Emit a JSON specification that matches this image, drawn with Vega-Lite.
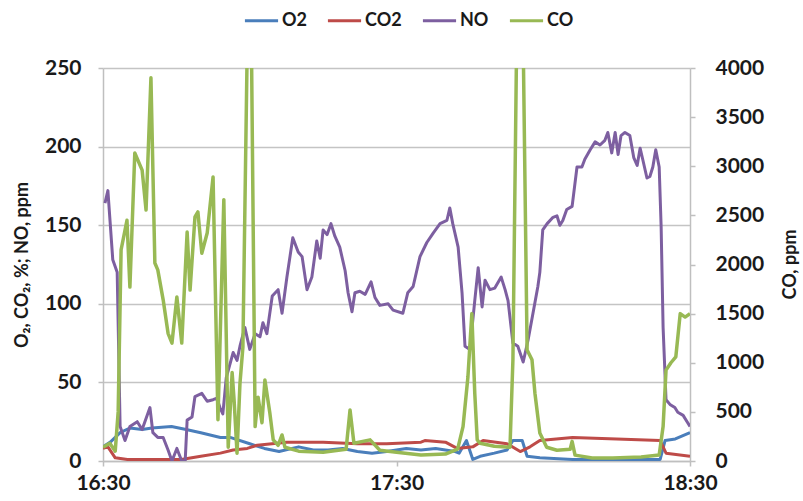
{
  "$schema": "https://vega.github.io/schema/vega-lite/v6.json",
  "width": 587,
  "height": 393,
  "autosize": {"type": "none"},
  "padding": {"left": 103, "top": 68, "right": 113, "bottom": 40},
  "background": "white",
  "config": {
    "view": {"stroke": null},
    "font": "Lato",
    "axis": {"labelFont": "Lato", "labelFontWeight": "bold", "labelFontSize": 21, "labelColor": "#1a1a1a", "titleFont": "Lato", "titleFontWeight": "bold", "titleFontSize": 18, "titleColor": "#1a1a1a", "domainColor": "#BFBFBF", "domainWidth": 1.5, "tickColor": "#BFBFBF", "tickWidth": 1.5, "tickSize": 5}
  },
  "data": {"values": [
    {"m":0,"s":"O2","v":9},{"m":1.5,"s":"O2","v":12},{"m":3.5,"s":"O2","v":18},{"m":5.5,"s":"O2","v":21},{"m":8,"s":"O2","v":20},{"m":10,"s":"O2","v":21},{"m":14,"s":"O2","v":22},{"m":17,"s":"O2","v":20},{"m":20,"s":"O2","v":18},{"m":24,"s":"O2","v":15},{"m":26,"s":"O2","v":15},{"m":30,"s":"O2","v":11},{"m":33,"s":"O2","v":8},{"m":36,"s":"O2","v":6},{"m":40,"s":"O2","v":9},{"m":43,"s":"O2","v":7},{"m":46,"s":"O2","v":7},{"m":49,"s":"O2","v":8},{"m":52,"s":"O2","v":6},{"m":55,"s":"O2","v":5},{"m":58,"s":"O2","v":6},{"m":62,"s":"O2","v":8},{"m":65,"s":"O2","v":7},{"m":68,"s":"O2","v":8},{"m":72,"s":"O2","v":6},{"m":72.8,"s":"O2","v":5},{"m":74.3,"s":"O2","v":13},{"m":75.6,"s":"O2","v":1},{"m":77.1,"s":"O2","v":3},{"m":80,"s":"O2","v":5},{"m":82.6,"s":"O2","v":7},{"m":83.8,"s":"O2","v":13},{"m":85.7,"s":"O2","v":13},{"m":86.7,"s":"O2","v":3},{"m":89.3,"s":"O2","v":2},{"m":96,"s":"O2","v":1},{"m":105,"s":"O2","v":1},{"m":113.9,"s":"O2","v":1},{"m":114.9,"s":"O2","v":13},{"m":117,"s":"O2","v":14},{"m":120,"s":"O2","v":18},
    {"m":0,"s":"CO2","v":8},{"m":1,"s":"CO2","v":9},{"m":2.5,"s":"CO2","v":2},{"m":5,"s":"CO2","v":1},{"m":10,"s":"CO2","v":1},{"m":16,"s":"CO2","v":1},{"m":20,"s":"CO2","v":3},{"m":24,"s":"CO2","v":5},{"m":26.6,"s":"CO2","v":7},{"m":29.5,"s":"CO2","v":8},{"m":31.5,"s":"CO2","v":10},{"m":37.6,"s":"CO2","v":12},{"m":45,"s":"CO2","v":12},{"m":52,"s":"CO2","v":11},{"m":58,"s":"CO2","v":11},{"m":65,"s":"CO2","v":12},{"m":65.8,"s":"CO2","v":13},{"m":70,"s":"CO2","v":12},{"m":72.4,"s":"CO2","v":8},{"m":75.6,"s":"CO2","v":9},{"m":77.7,"s":"CO2","v":13},{"m":82.6,"s":"CO2","v":11},{"m":85.3,"s":"CO2","v":6},{"m":87.3,"s":"CO2","v":9},{"m":89.3,"s":"CO2","v":13},{"m":96,"s":"CO2","v":15},{"m":105,"s":"CO2","v":14},{"m":113.9,"s":"CO2","v":13},{"m":115.1,"s":"CO2","v":5},{"m":120,"s":"CO2","v":3},
    {"m":0.4,"s":"NO","v":164},{"m":1,"s":"NO","v":172},{"m":2,"s":"NO","v":128},{"m":2.9,"s":"NO","v":120},{"m":3.5,"s":"NO","v":22},{"m":4.5,"s":"NO","v":13},{"m":5.5,"s":"NO","v":22},{"m":7,"s":"NO","v":25},{"m":8,"s":"NO","v":20},{"m":9.6,"s":"NO","v":34},{"m":10.2,"s":"NO","v":18},{"m":11.2,"s":"NO","v":15},{"m":12.3,"s":"NO","v":15},{"m":13.3,"s":"NO","v":7},{"m":14.1,"s":"NO","v":0},{"m":15.1,"s":"NO","v":8},{"m":16.1,"s":"NO","v":0},{"m":16.8,"s":"NO","v":0},{"m":17.2,"s":"NO","v":26},{"m":18.2,"s":"NO","v":28},{"m":18.8,"s":"NO","v":41},{"m":20.2,"s":"NO","v":43},{"m":21.3,"s":"NO","v":38},{"m":22.5,"s":"NO","v":39},{"m":23.3,"s":"NO","v":40},{"m":23.9,"s":"NO","v":34},{"m":24.5,"s":"NO","v":30},{"m":25.2,"s":"NO","v":53},{"m":26.6,"s":"NO","v":69},{"m":27.4,"s":"NO","v":64},{"m":28,"s":"NO","v":73},{"m":29,"s":"NO","v":85},{"m":30,"s":"NO","v":71},{"m":31.1,"s":"NO","v":81},{"m":32.1,"s":"NO","v":79},{"m":32.7,"s":"NO","v":88},{"m":33.5,"s":"NO","v":81},{"m":34.6,"s":"NO","v":105},{"m":35.8,"s":"NO","v":109},{"m":36.6,"s":"NO","v":94},{"m":37.6,"s":"NO","v":117},{"m":38.8,"s":"NO","v":142},{"m":39.9,"s":"NO","v":133},{"m":40.7,"s":"NO","v":130},{"m":41.7,"s":"NO","v":109},{"m":42.7,"s":"NO","v":117},{"m":43.7,"s":"NO","v":140},{"m":44.4,"s":"NO","v":129},{"m":45,"s":"NO","v":147},{"m":45.8,"s":"NO","v":144},{"m":46.6,"s":"NO","v":151},{"m":47.4,"s":"NO","v":143},{"m":48.4,"s":"NO","v":136},{"m":49.5,"s":"NO","v":121},{"m":50.1,"s":"NO","v":107},{"m":50.9,"s":"NO","v":95},{"m":51.5,"s":"NO","v":107},{"m":52.5,"s":"NO","v":108},{"m":53.6,"s":"NO","v":106},{"m":54.8,"s":"NO","v":114},{"m":55.6,"s":"NO","v":104},{"m":56.6,"s":"NO","v":99},{"m":58.3,"s":"NO","v":100},{"m":59.3,"s":"NO","v":96},{"m":61.3,"s":"NO","v":94},{"m":62.3,"s":"NO","v":107},{"m":63.4,"s":"NO","v":111},{"m":64.8,"s":"NO","v":130},{"m":66.2,"s":"NO","v":139},{"m":67.5,"s":"NO","v":145},{"m":68.9,"s":"NO","v":151},{"m":70.3,"s":"NO","v":153},{"m":70.9,"s":"NO","v":161},{"m":71.5,"s":"NO","v":151},{"m":72.6,"s":"NO","v":136},{"m":73.4,"s":"NO","v":107},{"m":74,"s":"NO","v":73},{"m":75,"s":"NO","v":71},{"m":76,"s":"NO","v":102},{"m":76.7,"s":"NO","v":123},{"m":77.5,"s":"NO","v":98},{"m":78.1,"s":"NO","v":115},{"m":79.1,"s":"NO","v":109},{"m":80.1,"s":"NO","v":110},{"m":81.4,"s":"NO","v":117},{"m":82.2,"s":"NO","v":109},{"m":82.8,"s":"NO","v":102},{"m":83.8,"s":"NO","v":75},{"m":84.8,"s":"NO","v":73},{"m":85.9,"s":"NO","v":63},{"m":86.9,"s":"NO","v":77},{"m":87.9,"s":"NO","v":94},{"m":88.9,"s":"NO","v":111},{"m":89.3,"s":"NO","v":120},{"m":89.9,"s":"NO","v":147},{"m":90.8,"s":"NO","v":151},{"m":92,"s":"NO","v":155},{"m":92.8,"s":"NO","v":156},{"m":93.4,"s":"NO","v":150},{"m":94,"s":"NO","v":153},{"m":94.8,"s":"NO","v":160},{"m":95.9,"s":"NO","v":162},{"m":96.9,"s":"NO","v":187},{"m":97.9,"s":"NO","v":187},{"m":98.5,"s":"NO","v":192},{"m":99.6,"s":"NO","v":198},{"m":100.6,"s":"NO","v":203},{"m":101.6,"s":"NO","v":201},{"m":102.6,"s":"NO","v":204},{"m":103.2,"s":"NO","v":209},{"m":104,"s":"NO","v":196},{"m":104.7,"s":"NO","v":209},{"m":105.3,"s":"NO","v":195},{"m":105.9,"s":"NO","v":207},{"m":106.7,"s":"NO","v":209},{"m":107.7,"s":"NO","v":207},{"m":108.5,"s":"NO","v":193},{"m":109.2,"s":"NO","v":188},{"m":109.8,"s":"NO","v":199},{"m":110.4,"s":"NO","v":191},{"m":111.2,"s":"NO","v":180},{"m":111.8,"s":"NO","v":181},{"m":112.4,"s":"NO","v":187},{"m":113,"s":"NO","v":198},{"m":113.7,"s":"NO","v":187},{"m":114.1,"s":"NO","v":149},{"m":114.5,"s":"NO","v":85},{"m":115.1,"s":"NO","v":39},{"m":115.9,"s":"NO","v":36},{"m":116.9,"s":"NO","v":34},{"m":117.5,"s":"NO","v":31},{"m":118.6,"s":"NO","v":29},{"m":119.4,"s":"NO","v":25},{"m":120,"s":"NO","v":22},
    {"m":0,"s":"CO","v":140},{"m":1.4,"s":"CO","v":180},{"m":2.5,"s":"CO","v":100},{"m":3.1,"s":"CO","v":500},{"m":3.7,"s":"CO","v":2150},{"m":4.9,"s":"CO","v":2450},{"m":5.5,"s":"CO","v":1770},{"m":6.5,"s":"CO","v":3135},{"m":8,"s":"CO","v":2960},{"m":8.8,"s":"CO","v":2555},{"m":9.8,"s":"CO","v":3900},{"m":10.6,"s":"CO","v":2015},{"m":11.2,"s":"CO","v":1945},{"m":12.3,"s":"CO","v":1640},{"m":13.3,"s":"CO","v":1300},{"m":14.1,"s":"CO","v":1200},{"m":15.1,"s":"CO","v":1670},{"m":16.1,"s":"CO","v":1200},{"m":17.2,"s":"CO","v":2330},{"m":17.8,"s":"CO","v":1740},{"m":18.8,"s":"CO","v":2485},{"m":19.4,"s":"CO","v":2535},{"m":20.2,"s":"CO","v":2115},{"m":21.3,"s":"CO","v":2320},{"m":22.5,"s":"CO","v":2890},{"m":23.5,"s":"CO","v":420},{"m":24.7,"s":"CO","v":2660},{"m":25.6,"s":"CO","v":140},{"m":26.4,"s":"CO","v":900},{"m":26.8,"s":"CO","v":620},{"m":27.4,"s":"CO","v":80},{"m":28,"s":"CO","v":790},{"m":28.6,"s":"CO","v":1160},{"m":30,"s":"CO","v":6000},{"m":31.1,"s":"CO","v":350},{"m":31.7,"s":"CO","v":650},{"m":32.5,"s":"CO","v":390},{"m":33.1,"s":"CO","v":825},{"m":34.1,"s":"CO","v":490},{"m":34.8,"s":"CO","v":215},{"m":35.8,"s":"CO","v":160},{"m":36.6,"s":"CO","v":265},{"m":37.2,"s":"CO","v":140},{"m":40,"s":"CO","v":100},{"m":45,"s":"CO","v":90},{"m":49.7,"s":"CO","v":120},{"m":50.5,"s":"CO","v":520},{"m":51.3,"s":"CO","v":180},{"m":54.6,"s":"CO","v":215},{"m":56.6,"s":"CO","v":110},{"m":60,"s":"CO","v":90},{"m":65,"s":"CO","v":60},{"m":70,"s":"CO","v":70},{"m":72.5,"s":"CO","v":120},{"m":73.6,"s":"CO","v":350},{"m":74.6,"s":"CO","v":855},{"m":75.4,"s":"CO","v":1500},{"m":76,"s":"CO","v":690},{"m":76.5,"s":"CO","v":215},{"m":77.1,"s":"CO","v":180},{"m":80,"s":"CO","v":150},{"m":83.2,"s":"CO","v":140},{"m":83.8,"s":"CO","v":1030},{"m":85.2,"s":"CO","v":7000},{"m":86.7,"s":"CO","v":1130},{"m":87.7,"s":"CO","v":1030},{"m":88.3,"s":"CO","v":690},{"m":89.3,"s":"CO","v":285},{"m":90.7,"s":"CO","v":140},{"m":92.8,"s":"CO","v":110},{"m":95.5,"s":"CO","v":120},{"m":95.9,"s":"CO","v":200},{"m":96.5,"s":"CO","v":60},{"m":100,"s":"CO","v":30},{"m":104.2,"s":"CO","v":30},{"m":110,"s":"CO","v":40},{"m":113.7,"s":"CO","v":60},{"m":114.5,"s":"CO","v":350},{"m":115.1,"s":"CO","v":925},{"m":116.1,"s":"CO","v":1000},{"m":117.1,"s":"CO","v":1060},{"m":118,"s":"CO","v":1500},{"m":119,"s":"CO","v":1465},{"m":120,"s":"CO","v":1500}
  ]},
  "encoding": {
    "x": {"field": "m", "type": "quantitative", "scale": {"domain": [0, 120], "nice": false},
      "axis": {"values": [0, 60, 120], "labelExpr": "datum.value == 0 ? '16:30' : datum.value == 60 ? '17:30' : '18:30'", "grid": false, "title": null, "labelPadding": 6, "labelFlush": false}}
  },
  "layer": [
    {
      "transform": [{"filter": "datum.s !== 'CO'"}],
      "mark": {"type": "line", "strokeWidth": 3, "clip": true, "strokeJoin": "round"},
      "encoding": {
        "y": {"field": "v", "type": "quantitative", "scale": {"domain": [0, 250], "nice": false},
          "axis": {"values": [0, 50, 100, 150, 200, 250], "grid": true, "gridColor": "#C4C4C4", "gridWidth": 1.5, "title": "O₂, CO₂, %; NO, ppm", "labelPadding": 17, "titlePadding": 13}},
        "color": {"field": "s", "type": "nominal",
          "scale": {"domain": ["O2", "CO2", "NO", "CO"], "range": ["#4A7EBB", "#BE4B48", "#7D5FA0", "#98B954"]},
          "legend": {"title": null, "orient": "none", "direction": "horizontal", "legendX": 140, "legendY": -66, "symbolType": "stroke", "symbolSize": 1100, "symbolStrokeWidth": 3, "labelFont": "Lato", "labelFontWeight": "bold", "labelFontSize": 18, "labelColor": "#1a1a1a", "labelOffset": 2, "columnPadding": 14}}
      }
    },
    {
      "transform": [{"filter": "datum.s === 'CO'"}],
      "mark": {"type": "line", "strokeWidth": 3.5, "clip": true, "strokeJoin": "round"},
      "encoding": {
        "y": {"field": "v", "type": "quantitative", "scale": {"domain": [0, 4000], "nice": false},
          "axis": {"orient": "right", "values": [0, 500, 1000, 1500, 2000, 2500, 3000, 3500, 4000], "format": "d", "grid": false, "title": "CO, ppm", "titleAngle": 270, "titleX": 100, "titleY": 196, "titleAlign": "center", "titleBaseline": "middle", "labelPadding": 20}},
        "color": {"field": "s", "type": "nominal"}
      }
    }
  ],
  "resolve": {"scale": {"y": "independent"}}
}
